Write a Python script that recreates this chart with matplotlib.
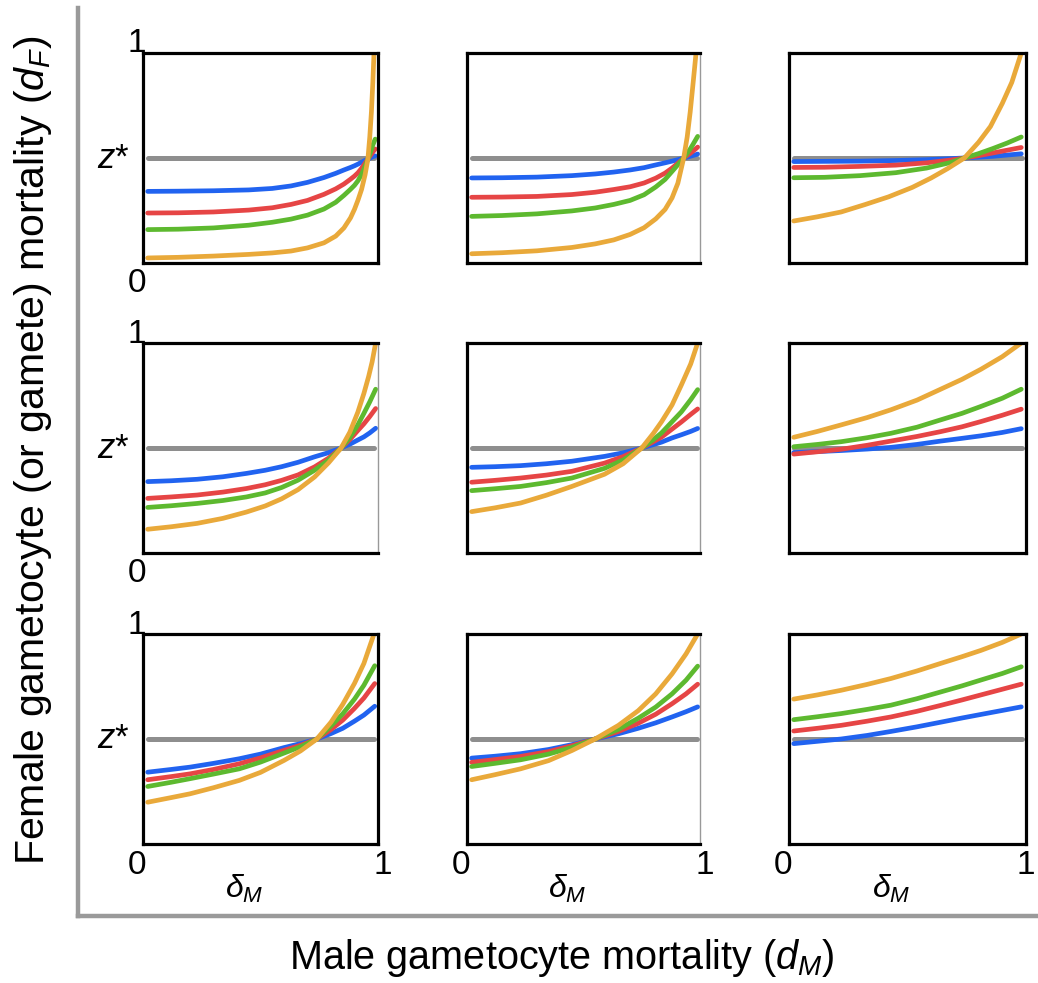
import matplotlib
matplotlib.use('Agg')
import matplotlib.pyplot as plt
from matplotlib.lines import Line2D

plt.rcParams['font.family'] = ['Liberation Sans', 'DejaVu Sans']
plt.rcParams['mathtext.fontset'] = 'custom'
plt.rcParams['mathtext.rm'] = 'Liberation Sans'
plt.rcParams['mathtext.it'] = 'Liberation Sans:italic'
plt.rcParams['mathtext.bf'] = 'Liberation Sans:bold'

# ---------------- data ----------------
Z_STAR = 0.5
Z_X = [0.02, 0.985]

# row 1
X_11 = [0.02, 0.15, 0.3, 0.45, 0.55, 0.63, 0.7, 0.77, 0.82, 0.855, 0.883, 0.9, 0.915, 0.93,
        0.945, 0.957, 0.965, 0.972, 0.978, 0.988]
BLUE_11 = [0.341, 0.342, 0.344, 0.348, 0.355, 0.367, 0.384, 0.407, 0.427, 0.443, 0.455, 0.463,
           0.471, 0.48, 0.489, 0.495, 0.499, 0.503, 0.506, 0.51]
RED_11 = [0.238, 0.239, 0.243, 0.252, 0.263, 0.279, 0.298, 0.327, 0.353, 0.376, 0.399, 0.414,
          0.43, 0.451, 0.475, 0.495, 0.508, 0.519, 0.528, 0.543]
GREEN_11 = [0.159, 0.161, 0.167, 0.18, 0.194, 0.209, 0.228, 0.257, 0.289, 0.322, 0.351, 0.37,
            0.392, 0.422, 0.46, 0.495, 0.518, 0.54, 0.562, 0.59]
XO_11 = [0.02, 0.15, 0.3, 0.45, 0.55, 0.63, 0.7, 0.77, 0.82, 0.855, 0.883, 0.9, 0.915, 0.93,
         0.945, 0.957, 0.965, 0.972, 0.978, 0.983]
ORANGE_11 = [0.024, 0.027, 0.033, 0.041, 0.048, 0.057, 0.072, 0.096, 0.128, 0.167, 0.215, 0.256,
             0.3, 0.35, 0.42, 0.495, 0.6, 0.72, 0.86, 1.0]

X_12 = [0.02, 0.15, 0.3, 0.45, 0.55, 0.63, 0.7, 0.76, 0.81, 0.85, 0.88, 0.905, 0.93, 0.945,
        0.958, 0.97, 0.98, 0.99]
BLUE_12 = [0.405, 0.406, 0.409, 0.416, 0.424, 0.433, 0.443, 0.454, 0.467, 0.477, 0.485, 0.492,
           0.5, 0.504, 0.508, 0.512, 0.515, 0.519]
RED_12 = [0.313, 0.314, 0.317, 0.326, 0.337, 0.35, 0.363, 0.381, 0.404, 0.428, 0.452, 0.475,
          0.5, 0.512, 0.522, 0.533, 0.542, 0.552]
GREEN_12 = [0.222, 0.226, 0.234, 0.248, 0.262, 0.279, 0.298, 0.325, 0.362, 0.398, 0.436, 0.468,
            0.5, 0.522, 0.543, 0.565, 0.584, 0.603]
XO_12 = [0.02, 0.15, 0.3, 0.45, 0.55, 0.63, 0.7, 0.76, 0.81, 0.85, 0.88, 0.905, 0.93, 0.945,
         0.958, 0.968, 0.976, 0.983]
ORANGE_12 = [0.044, 0.049, 0.058, 0.074, 0.091, 0.11, 0.136, 0.168, 0.21, 0.255, 0.31, 0.38,
             0.5, 0.6, 0.72, 0.83, 0.92, 1.0]

X_13 = [0.02, 0.15, 0.3, 0.45, 0.58, 0.68, 0.74, 0.8, 0.86, 0.92, 0.98]
BLUE_13 = [0.483, 0.484, 0.485, 0.488, 0.492, 0.497, 0.5, 0.504, 0.508, 0.514, 0.52]
RED_13 = [0.455, 0.456, 0.46, 0.466, 0.477, 0.49, 0.5, 0.511, 0.524, 0.537, 0.55]
GREEN_13 = [0.406, 0.408, 0.416, 0.43, 0.452, 0.478, 0.5, 0.521, 0.545, 0.571, 0.6]
XO_13 = [0.02, 0.12, 0.22, 0.32, 0.42, 0.52, 0.6, 0.67, 0.74, 0.8, 0.85, 0.9, 0.94, 0.98]
ORANGE_13 = [0.2, 0.22, 0.243, 0.278, 0.315, 0.36, 0.405, 0.45, 0.5, 0.575, 0.65, 0.76, 0.86, 1.0]

# row 2
X_21 = [0.02, 0.12, 0.23, 0.34, 0.44, 0.52, 0.59, 0.66, 0.73, 0.79, 0.843, 0.88, 0.914, 0.94,
        0.965, 0.99]
BLUE_21 = [0.34, 0.344, 0.351, 0.363, 0.379, 0.394, 0.411, 0.432, 0.458, 0.478, 0.5, 0.518,
           0.538, 0.553, 0.572, 0.594]
RED_21 = [0.26, 0.267, 0.276, 0.29, 0.307, 0.325, 0.346, 0.372, 0.41, 0.452, 0.5, 0.54, 0.583,
          0.615, 0.65, 0.688]
GREEN_21 = [0.217, 0.225, 0.236, 0.25, 0.267, 0.286, 0.312, 0.347, 0.394, 0.443, 0.5, 0.55,
            0.61, 0.665, 0.72, 0.78]
XO_21 = [0.02, 0.12, 0.23, 0.34, 0.44, 0.52, 0.59, 0.66, 0.73, 0.79, 0.843, 0.88, 0.914, 0.94,
         0.96, 0.975, 0.99]
ORANGE_21 = [0.113, 0.125, 0.141, 0.165, 0.195, 0.224, 0.258, 0.302, 0.362, 0.43, 0.5, 0.575,
             0.67, 0.76, 0.84, 0.91, 1.0]

X_22 = [0.02, 0.12, 0.23, 0.34, 0.45, 0.59, 0.67, 0.75, 0.8, 0.835, 0.88, 0.92, 0.96, 0.99]
BLUE_22 = [0.408, 0.411, 0.416, 0.425, 0.437, 0.46, 0.477, 0.5, 0.516, 0.528, 0.548, 0.563,
           0.579, 0.593]
RED_22 = [0.337, 0.346, 0.357, 0.371, 0.389, 0.428, 0.459, 0.5, 0.53, 0.552, 0.59, 0.624, 0.66,
          0.686]
GREEN_22 = [0.297, 0.306, 0.317, 0.335, 0.357, 0.403, 0.443, 0.5, 0.54, 0.572, 0.625, 0.672,
            0.73, 0.778]
XO_22 = X_22
ORANGE_22 = [0.197, 0.215, 0.238, 0.275, 0.317, 0.375, 0.425, 0.5, 0.57, 0.625, 0.705, 0.8, 0.9,
             1.0]

X_23 = [0.02, 0.12, 0.22, 0.33, 0.43, 0.54, 0.64, 0.73, 0.81, 0.9, 0.98]
BLUE_23 = [0.478, 0.483, 0.488, 0.495, 0.503, 0.517, 0.533, 0.546, 0.558, 0.574, 0.592]
RED_23 = [0.471, 0.482, 0.494, 0.513, 0.533, 0.555, 0.578, 0.601, 0.626, 0.656, 0.685]
GREEN_23 = [0.506, 0.517, 0.53, 0.549, 0.57, 0.599, 0.634, 0.665, 0.698, 0.737, 0.78]
XO_23 = X_23
ORANGE_23 = [0.551, 0.579, 0.61, 0.645, 0.682, 0.728, 0.78, 0.827, 0.875, 0.935, 1.0]

# row 3
X_31 = [0.02, 0.12, 0.2, 0.3, 0.41, 0.5, 0.6, 0.67, 0.74, 0.8, 0.85, 0.9, 0.94, 0.986]
BLUE_31 = [0.342, 0.355, 0.366, 0.384, 0.406, 0.428, 0.459, 0.478, 0.5, 0.526, 0.551, 0.585,
           0.614, 0.656]
RED_31 = [0.306, 0.321, 0.334, 0.355, 0.382, 0.41, 0.446, 0.47, 0.5, 0.545, 0.59, 0.646, 0.695,
          0.764]
GREEN_31 = [0.274, 0.294, 0.311, 0.333, 0.358, 0.39, 0.433, 0.463, 0.5, 0.562, 0.62, 0.69, 0.756,
            0.849]
XO_31 = [0.02, 0.12, 0.2, 0.3, 0.41, 0.5, 0.6, 0.67, 0.74, 0.8, 0.85, 0.9, 0.94, 0.983]
ORANGE_31 = [0.199, 0.221, 0.239, 0.268, 0.303, 0.341, 0.398, 0.443, 0.5, 0.58, 0.665, 0.765,
             0.86, 1.0]

X_32 = [0.02, 0.12, 0.23, 0.35, 0.45, 0.55, 0.65, 0.735, 0.81, 0.88, 0.94, 0.99]
BLUE_32 = [0.409, 0.418, 0.43, 0.45, 0.473, 0.5, 0.525, 0.551, 0.577, 0.605, 0.63, 0.653]
RED_32 = [0.389, 0.402, 0.417, 0.44, 0.468, 0.5, 0.536, 0.575, 0.618, 0.668, 0.715, 0.761]
GREEN_32 = [0.369, 0.384, 0.401, 0.428, 0.46, 0.5, 0.546, 0.599, 0.652, 0.715, 0.78, 0.847]
XO_32 = X_32
ORANGE_32 = [0.306, 0.33, 0.358, 0.397, 0.445, 0.5, 0.565, 0.635, 0.715, 0.81, 0.905, 1.0]

X_33 = [0.02, 0.12, 0.22, 0.33, 0.43, 0.54, 0.64, 0.73, 0.81, 0.9, 0.98]
BLUE_33 = [0.478, 0.489, 0.5, 0.517, 0.536, 0.558, 0.58, 0.6, 0.617, 0.636, 0.653]
RED_33 = [0.538, 0.551, 0.565, 0.585, 0.605, 0.632, 0.66, 0.686, 0.71, 0.737, 0.761]
GREEN_33 = [0.592, 0.606, 0.621, 0.641, 0.661, 0.692, 0.724, 0.753, 0.781, 0.812, 0.844]
XO_33 = X_33
ORANGE_33 = [0.69, 0.71, 0.732, 0.76, 0.788, 0.824, 0.86, 0.892, 0.922, 0.96, 1.0]

PANELS = [
    [(X_11, BLUE_11, RED_11, GREEN_11, XO_11, ORANGE_11),
     (X_12, BLUE_12, RED_12, GREEN_12, XO_12, ORANGE_12),
     (X_13, BLUE_13, RED_13, GREEN_13, XO_13, ORANGE_13)],
    [(X_21, BLUE_21, RED_21, GREEN_21, XO_21, ORANGE_21),
     (X_22, BLUE_22, RED_22, GREEN_22, XO_22, ORANGE_22),
     (X_23, BLUE_23, RED_23, GREEN_23, XO_23, ORANGE_23)],
    [(X_31, BLUE_31, RED_31, GREEN_31, XO_31, ORANGE_31),
     (X_32, BLUE_32, RED_32, GREEN_32, XO_32, ORANGE_32),
     (X_33, BLUE_33, RED_33, GREEN_33, XO_33, ORANGE_33)],
]

# ---------------- styling / layout ----------------
C_GRAY = '#8e8e8e'
C_BLUE = '#2163f0'
C_RED = '#e64545'
C_GREEN = '#5db92f'
C_ORANGE = '#e9a93a'

W, H = 1038, 983
fig = plt.figure(figsize=(W / 100, H / 100), dpi=100)

COL_L = [143, 467, 789]
COL_W = [235, 233, 237]
ROW_T = [53, 343, 634]
ROW_H = 210
THIN_RIGHT = {(0, 1), (1, 0), (1, 1), (2, 1)}

LW = 3.4


def fx(px):
    return px / W


def fy(py):
    return 1 - py / H


for r in range(3):
    for c in range(3):
        l, t, w = COL_L[c], ROW_T[r], COL_W[c]
        ax = fig.add_axes([fx(l), fy(t + ROW_H), w / W, ROW_H / H])
        x, b, rd, g, xo, o = PANELS[r][c]
        ax.plot(Z_X, [Z_STAR, Z_STAR], color=C_GRAY, lw=3.6, solid_capstyle='round')
        ax.plot(x, b, color=C_BLUE, lw=LW, solid_capstyle='round', solid_joinstyle='round')
        ax.plot(x, rd, color=C_RED, lw=LW, solid_capstyle='round', solid_joinstyle='round')
        ax.plot(x, g, color=C_GREEN, lw=LW, solid_capstyle='round', solid_joinstyle='round')
        ax.plot(xo, o, color=C_ORANGE, lw=LW, solid_capstyle='round', solid_joinstyle='round')
        ax.set_xlim(0, 1)
        ax.set_ylim(0, 1)
        ax.set_xticks([])
        ax.set_yticks([])
        for s in ax.spines.values():
            s.set_linewidth(2.3)
            s.set_color('black')
        if (r, c) in THIN_RIGHT:
            ax.spines['right'].set_linewidth(1.0)
            ax.spines['right'].set_color('#999999')

        if c == 0:
            fig.text(fx(l - 6), fy(t - 9), '1', fontsize=24, ha='center', va='center')
            fig.text(fx(l - 30), fy(t + ROW_H * (1 - Z_STAR)), '$z$*', fontsize=25,
                     ha='center', va='center')
        if c == 0 or r == 2:
            fig.text(fx(l - 6), fy(t + ROW_H + 21), '0', fontsize=24, ha='center', va='center')
        if r == 2:
            fig.text(fx(min(l + w + 5, 1026)), fy(t + ROW_H + 21), '1', fontsize=24,
                     ha='center', va='center')
            fig.text(fx(l + w * 0.43), fy(t + ROW_H + 45), r'$\delta_M$', fontsize=23,
                     ha='center', va='center')

# outer gray axes
fig.add_artist(Line2D([fx(78), fx(78)], [fy(8), fy(916)], color='#9a9a9a', lw=3.2,
                      transform=fig.transFigure))
fig.add_artist(Line2D([fx(78), fx(1038)], [fy(916), fy(916)], color='#9a9a9a', lw=3.2,
                      transform=fig.transFigure))

fig.text(fx(562), fy(958), 'Male gametocyte mortality ($d_M$)', fontsize=28.5,
         ha='center', va='center')
fig.text(fx(33), fy(450), 'Female gametocyte (or gamete) mortality ($d_F$)', fontsize=29.5,
         ha='center', va='center', rotation=90)

fig.savefig('out.png', dpi=100)
